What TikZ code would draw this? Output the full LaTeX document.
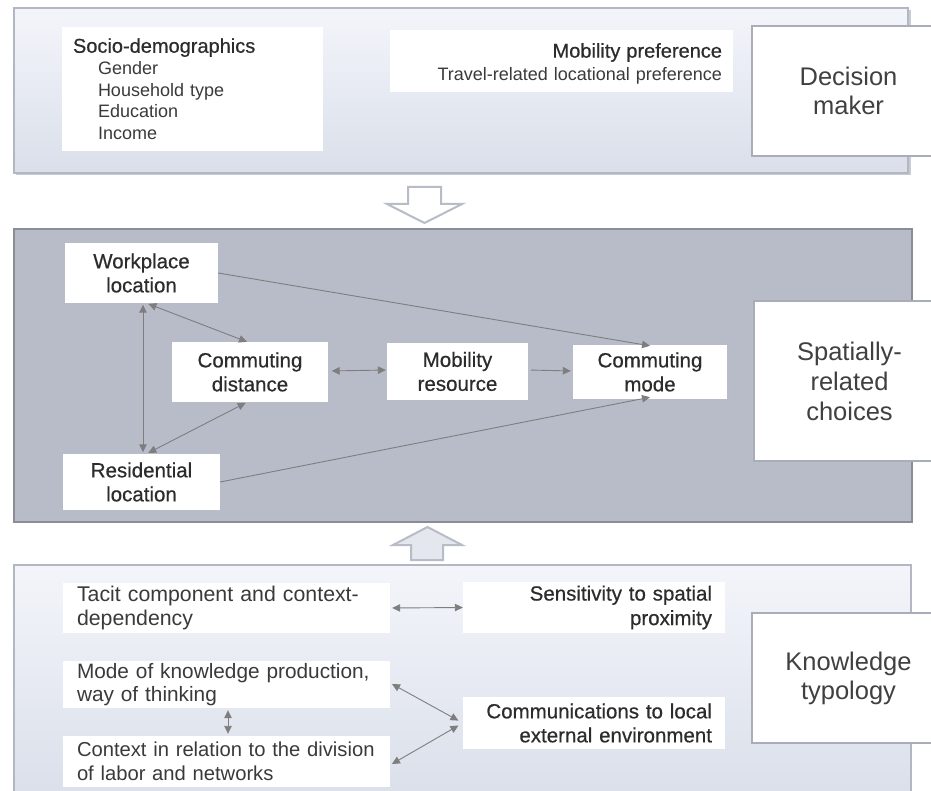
\documentclass[tikz,border=0pt]{standalone}
\usepackage{fontspec}
\setmainfont{Liberation Sans}
\newfontfamily\medfont[FakeBold=0.5]{Liberation Sans}
\usetikzlibrary{arrows.meta}

\definecolor{txt}{HTML}{3A3A3A}
\definecolor{medtxt}{HTML}{2C2C2C}
\definecolor{sidetxt}{HTML}{404040}
\definecolor{paneltop}{HTML}{F3F5FA}
\definecolor{panelbot}{HTML}{DADFEA}
\definecolor{panelline}{HTML}{B3B7C3}
\definecolor{panelshadow}{HTML}{C9CCD4}
\definecolor{midfill}{HTML}{B8BCC9}
\definecolor{midline}{HTML}{8A8D96}
\definecolor{sideline}{HTML}{A9ADB9}
\definecolor{linkgray}{HTML}{7E7E7E}
\definecolor{blockline}{HTML}{B7BCC7}
\definecolor{blockfill}{HTML}{E4E7EE}

\hyphenpenalty=10000
\exhyphenpenalty=10000

\tikzset{
  card/.style={fill=white, draw=none, inner sep=0pt, text=txt},
  midcard/.style={card, align=center, text=medtxt,
    font=\medfont\fontsize{20.5}{24}\selectfont},
  sidecard/.style={fill=white, draw=sideline, line width=2pt, inner sep=0pt,
    align=center, text=sidetxt},
  leftcard/.style={card, text width=299pt, inner xsep=14pt, minimum width=327pt,
    align=left},
  rightcard/.style={card, text width=236pt, inner xsep=13pt, minimum width=262pt,
    align=right, text=medtxt},
  link/.style={draw=linkgray, line width=0.9pt,
    -{Triangle[length=8pt,width=7.5pt]}},
  twoway/.style={link, {Triangle[length=8pt,width=7.5pt]}-{Triangle[length=8pt,width=7.5pt]}},
  blockarrow/.style={draw=blockline, line width=2pt, line join=miter},
}

\begin{document}
\begin{tikzpicture}[x=1pt, y=-1pt]
\useasboundingbox (0,0) rectangle (931,791);
\fill[white] (0,0) rectangle (931,791);

% ---------- upper panel: decision maker ----------
\fill[panelshadow] (16,10) rectangle (910.5,175.5);
\draw[panelline, line width=1.2pt, top color=paneltop, bottom color=panelbot]
  (14,8) rectangle (908,173);

\node[card, text width=239pt, inner xsep=11pt, minimum width=261pt,
      minimum height=124pt, align=left,
      font=\fontsize{18}{21.7}\selectfont] (socio) at (192.5,89)
  {{\medfont\color{medtxt}\fontsize{20}{21.7}\selectfont Socio-demographics}\\
   \hspace*{25pt}Gender\\
   \hspace*{25pt}Household type\\
   \hspace*{25pt}Education\\
   \hspace*{25pt}Income};

\node[card, text width=321pt, inner xsep=11pt, minimum width=343pt,
      minimum height=62pt, align=right,
      font=\fontsize{18}{23}\selectfont] (pref) at (561.5,61)
  {\rule{0pt}{20pt}{\medfont\color{medtxt}\fontsize{20}{23}\selectfont Mobility preference}\\
   Travel-related locational preference};

\node[sidecard, minimum width=193pt, minimum height=130pt,
      font=\fontsize{25.5}{29}\selectfont] (decision) at (848.5,91)
  {Decision\\maker};

% ---------- hollow arrow between upper and middle panels ----------
\draw[blockarrow, fill=white]
  (408,187) -- (441,187) -- (441,204) -- (462,204) -- (424.5,223)
  -- (387,204) -- (408,204) -- cycle;

% ---------- middle panel: spatially-related choices ----------
\draw[midline, line width=2.5pt, fill=midfill] (14,229) rectangle (912,522);

\node[midcard, minimum width=153pt, minimum height=60pt] (work) at (141.5,273)
  {Workplace\\location};
\node[midcard, minimum width=156pt, minimum height=60pt] (dist) at (250,372)
  {Commuting\\distance};
\node[midcard, minimum width=141pt, minimum height=57pt] (res) at (457.5,371.5)
  {Mobility\\resource};
\node[midcard, minimum width=154pt, minimum height=54pt] (mode) at (650,372)
  {Commuting\\mode};
\node[midcard, minimum width=157pt, minimum height=56pt] (home) at (141.5,482)
  {Residential\\location};

\node[sidecard, minimum width=191pt, minimum height=160pt,
      font=\fontsize{25.5}{30}\selectfont] (spatial) at (849.5,381)
  {Spatially-\\related\\choices};

\draw[link] (work.east) -- ([yshift=-1pt]mode.north);
\draw[link] (home.east) -- ([yshift=2pt]mode.south);
\draw[twoway, shorten <=1.5pt, shorten >=1.5pt]
  ([xshift=1.5pt]work.south) -- ([xshift=1.5pt]home.north);
\draw[twoway, shorten <=2pt] ([xshift=5pt]work.south) -- ([xshift=-3pt]dist.north);
\draw[twoway, shorten <=2pt, shorten >=1.5pt]
  ([xshift=5pt]home.north) -- ([xshift=-3pt]dist.south);
\draw[twoway, shorten <=3.5pt, shorten >=1pt]
  ([yshift=1pt]dist.east) -- ([yshift=1.5pt]res.west);
\draw[link, shorten <=3pt, shorten >=2pt]
  ([yshift=1.5pt]res.east) -- ([yshift=1pt]mode.west);

% ---------- hollow arrow between lower and middle panels ----------
\draw[blockarrow, fill=blockfill]
  (411,560) -- (443,560) -- (443,545) -- (462,545) -- (427.5,527)
  -- (393,545) -- (411,545) -- cycle;

% ---------- lower panel: knowledge typology ----------
\draw[panelline, line width=1.2pt, top color=paneltop, bottom color=panelbot]
  (14,565) rectangle (911,800);

\node[leftcard, minimum height=50pt,
      font=\fontsize{21.3}{23.5}\selectfont] (tacit) at (226.5,608)
  {Tacit component and context-\\dependency};
\node[leftcard, minimum height=47pt,
      font=\fontsize{20.8}{23.5}\selectfont] (prod) at (226.5,684.5)
  {Mode of knowledge production,\\way of thinking};
\node[leftcard, minimum height=51pt,
      font=\fontsize{20.2}{23.5}\selectfont] (labor) at (226.5,761.5)
  {Context in relation to the division\\of labor and networks};

\node[rightcard, minimum height=51pt,
      font=\medfont\fontsize{20.5}{24.5}\selectfont] (prox) at (594,607.5)
  {Sensitivity to spatial\\proximity};
\node[rightcard, minimum height=52pt,
      font=\medfont\fontsize{20.5}{24}\selectfont] (comm) at (594,723)
  {Communications to local\\external environment};

\node[sidecard, minimum width=193pt, minimum height=130pt,
      font=\fontsize{25.5}{29}\selectfont] (knowledge) at (848.5,678)
  {Knowledge\\typology};

\draw[twoway, shorten <=2pt] (tacit.east) -- (prox.west);
\draw[twoway, shorten <=2pt, shorten >=2pt]
  ([xshift=1.5pt]prod.south) -- ([xshift=1.5pt]labor.north);
\draw[twoway, shorten <=2pt, shorten >=5pt]
  ([yshift=1.5pt]prod.east) -- (comm.west);
\draw[twoway, shorten <=2pt, shorten >=5pt]
  ([yshift=-3.5pt]labor.east) -- (comm.west);
\end{tikzpicture}
\end{document}
